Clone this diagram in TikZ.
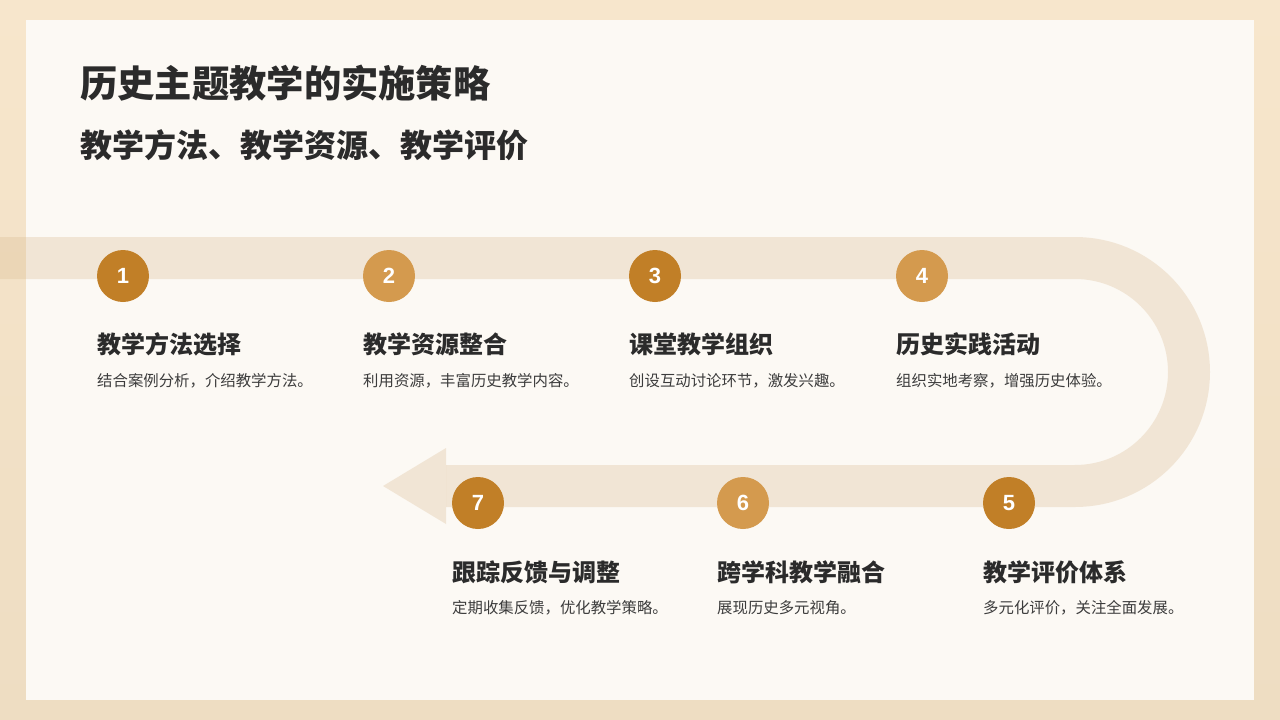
\documentclass[tikz,border=0pt]{standalone}
\usepackage{fontspec}
\usepackage{xcolor}
\setmainfont{Noto Sans CJK SC}
\newfontfamily\numfont{Liberation Sans}
\usetikzlibrary{positioning}

\definecolor{darkgold}{HTML}{C17F27}
\definecolor{lightgold}{HTML}{D49A4E}
\definecolor{trackcol}{HTML}{D9B98F}
\definecolor{cardbg}{HTML}{FCF9F4}
\definecolor{outertop}{HTML}{F7E6CC}
\definecolor{outerbot}{HTML}{EEDDC2}
\definecolor{inktext}{HTML}{2B2B2B}
\definecolor{desctext}{HTML}{3C3C3C}

\tikzset{
    stepdot/.style={circle, minimum size=52pt, inner sep=0pt, text=white,
        font=\numfont\bfseries\fontsize{22}{22}\selectfont},
    cardhead/.style={anchor=west, inner sep=0pt, text=inktext,
        font=\bfseries\fontsize{24}{28}\selectfont},
    carddesc/.style={anchor=west, inner sep=0pt, text=desctext,
        font=\fontsize{15.4}{18}\selectfont},
    trackband/.style={draw=trackcol, opacity=0.3, line width=42pt}
}

\begin{document}
\begin{tikzpicture}[x=1pt,y=-1pt]
        \useasboundingbox (0,0) rectangle (1280,720);
        \shade[top color=outertop, bottom color=outerbot] (0,0) rectangle (1280,720);
        \fill[cardbg] (26,20) rectangle (1254,700);

        % headline
        \node[anchor=west, inner sep=0pt, text=inktext,
            font=\bfseries\fontsize{37.3}{40}\selectfont] (title) at (80,83) {历史主题教学的实施策略};
        \node[anchor=west, inner sep=0pt, text=inktext,
            font=\bfseries\fontsize{32}{36}\selectfont] (subtitle) at (80,145) {教学方法、教学资源、教学评价};

        % track
        \draw[trackband] (0,258) -- (1075,258)
            arc
            [
            start angle=-90,
            end angle=90,
            radius=114
            ] -- (446,486);
        \fill[trackcol, opacity=0.3] (446,448) -- (383,486) -- (446,524) -- cycle;

        % steps
        \node[stepdot, fill=darkgold] (s1) at (123,276) {1};
        \node[stepdot, fill=lightgold] (s2) at (389,276) {2};
        \node[stepdot, fill=darkgold] (s3) at (655,276) {3};
        \node[stepdot, fill=lightgold] (s4) at (922,276) {4};
        \node[stepdot, fill=darkgold] (s5) at (1009,503) {5};
        \node[stepdot, fill=lightgold] (s6) at (743,503) {6};
        \node[stepdot, fill=darkgold] (s7) at (478,503) {7};

        \node[cardhead] (h1) at (97,344) {教学方法选择};
        \node[carddesc] (d1) at (97,381) {结合案例分析，介绍教学方法。};
        \node[cardhead] (h2) at (363,344) {教学资源整合};
        \node[carddesc] (d2) at (363,381) {利用资源，丰富历史教学内容。};
        \node[cardhead] (h3) at (629,344) {课堂教学组织};
        \node[carddesc] (d3) at (629,381) {创设互动讨论环节，激发兴趣。};
        \node[cardhead] (h4) at (896,344) {历史实践活动};
        \node[carddesc] (d4) at (896,381) {组织实地考察，增强历史体验。};
        \node[cardhead] (h5) at (983,572) {教学评价体系};
        \node[carddesc] (d5) at (983,608) {多元化评价，关注全面发展。};
        \node[cardhead] (h6) at (717,572) {跨学科教学融合};
        \node[carddesc] (d6) at (717,608) {展现历史多元视角。};
        \node[cardhead] (h7) at (452,572) {跟踪反馈与调整};
        \node[carddesc] (d7) at (452,608) {定期收集反馈，优化教学策略。};
    \end{tikzpicture}
\end{document}
